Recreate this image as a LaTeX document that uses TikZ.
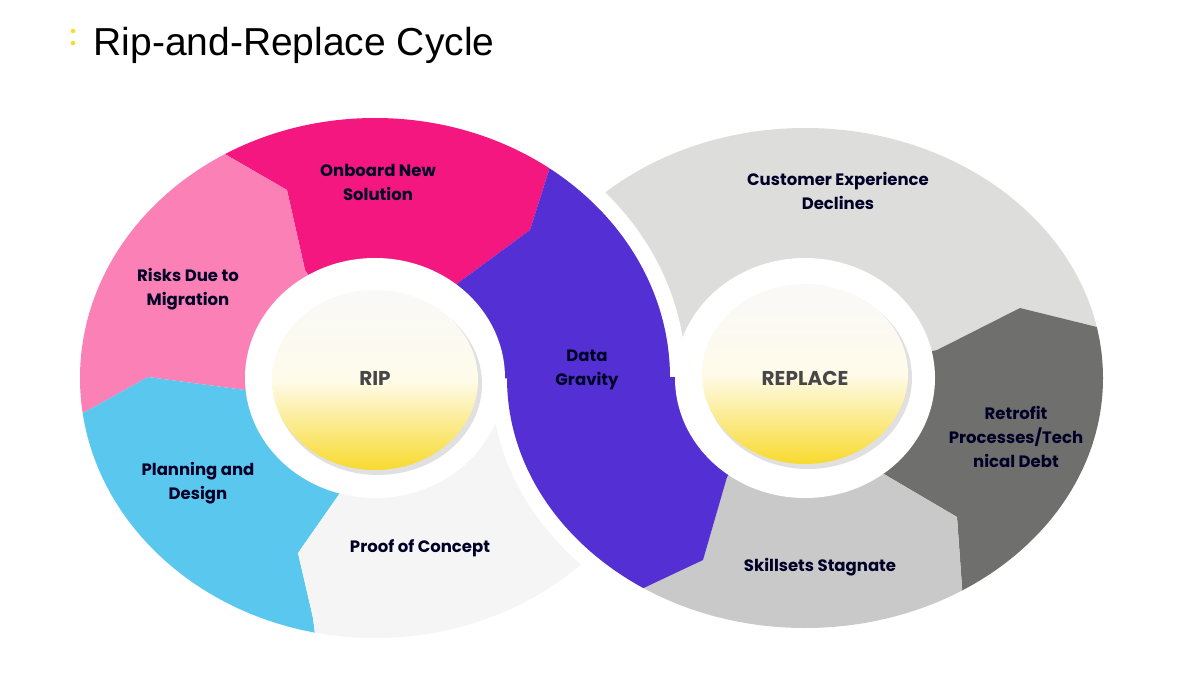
\documentclass[tikz,border=0pt]{standalone}
\usepackage{fontspec}
\setmainfont{Poppins}
\newfontfamily\titlefont{Liberation Sans}
\begin{document}
\begin{tikzpicture}[x=1pt,y=-1pt,
  lbl/.style={font=\fontsize{16.5}{24}\selectfont\bfseries,text=black!85!blue,align=center},
  ctr/.style={font=\fontsize{20}{24}\selectfont\bfseries,text=black!72},
  hubshade/.style={top color=white!95!gray,bottom color=yel,middle color=white!90!yel}]
\definecolor{onb}{HTML}{F4177F}
\definecolor{risk}{HTML}{FB80B6}
\definecolor{plan}{HTML}{5AC8EE}
\definecolor{proof}{HTML}{F5F5F5}
\definecolor{purp}{HTML}{5430D4}
\definecolor{gtop}{HTML}{DDDDDC}
\definecolor{gdark}{HTML}{6F6F6D}
\definecolor{gbot}{HTML}{C9C9C9}
\definecolor{yel}{HTML}{F8DA2E}
\fill[white] (0,0) rectangle (1200,674);
% right ring
\begin{scope}
\clip (805,378) ellipse [x radius=298,y radius=250];
\fill[gtop] (805,378)--(937,350)--(1020,308)--(1097,327)--(1200,300)--(1200,0)--(500,0)--(500,378)--cycle;
\fill[gdark] (805,378)--(937,350)--(1020,308)--(1097,327)--(1200,330)--(1200,674)--(962,674)--(962,587)--(957,517)--(877,470)--cycle;
\fill[gbot] (805,378)--(877,470)--(957,517)--(962,587)--(962,674)--(500,674)--(500,378)--cycle;
\end{scope}
% left ring
\begin{scope}
\clip (375,378) ellipse [x radius=295,y radius=260];
\fill[onb] (375,378)--(305,270)--(287,190)--(223,153)--(200,0)--(600,0)--(550,167)--(530,230)--(458,283)--cycle;
\fill[risk] (375,378)--(305,270)--(287,190)--(223,153)--(200,0)--(0,0)--(0,440)--(85,412)--(148,377)--(245,390)--cycle;
\fill[plan] (375,378)--(245,390)--(148,377)--(85,412)--(0,440)--(0,674)--(320,674)--(313,618)--(298,553)--(347,483)--cycle;
\fill[proof] (375,378)--(347,483)--(298,553)--(313,618)--(320,674)--(800,674)--(800,378)--cycle;
\end{scope}
% white gaps
\begin{scope}
\clip (560,0) rectangle (800,378);
\fill[white,even odd rule] (375,378) ellipse [x radius=311,y radius=276] (375,378) ellipse [x radius=295,y radius=260];
\end{scope}
\begin{scope}
\clip (400,378) rectangle (640,674);
\fill[white,even odd rule] (805,378) ellipse [x radius=314,y radius=266] (805,378) ellipse [x radius=298,y radius=250];
\end{scope}
% purple band
\begin{scope}
\clip (375,378) ellipse [x radius=295,y radius=260];
\fill[purp] (375,378)--(458,283)--(530,230)--(550,167)--(560,100)--(800,100)--(800,379)--cycle;
\end{scope}
\begin{scope}
\clip (805,378) ellipse [x radius=298,y radius=250];
\fill[purp] (805,377)--(440,377)--(440,700)--(560,700)--(590,613)--(633,593)--(703,560)--(727,477)--cycle;
\end{scope}
% holes
\fill[white] (375,378) ellipse [x radius=130,y radius=120];
\fill[white] (805,378) ellipse [x radius=130,y radius=120];
% hubs
\fill[black,opacity=0.12] (378,384) ellipse [x radius=104,y radius=91];
\fill[black,opacity=0.12] (808,378) ellipse [x radius=104,y radius=91];
\shade[hubshade] (375,380) ellipse [x radius=103,y radius=90];
\shade[hubshade] (805,374) ellipse [x radius=103,y radius=90];
\node[ctr] (riptxt) at (375,378) {RIP};
\node[ctr] (reptxt) at (805,378) {REPLACE};
% labels
\node[lbl] (l1) at (378,182) {Onboard New\\Solution};
\node[lbl] (l2) at (188,289) {Risks Due to\\Migration};
\node[lbl] (l3) at (198,483) {Planning and\\Design};
\node[lbl] (l4) at (420,548) {Proof of Concept};
\node[lbl] (l5) at (587,370) {Data\\Gravity};
\node[lbl] (l6) at (838,191) {Customer Experience\\Declines};
\node[lbl] (l7) at (1016,437) {Retrofit\\Processes/Tech\\nical Debt};
\node[lbl] (l8) at (820,567) {Skillsets Stagnate};
% title
\fill[yel] (73,31) circle (2.3);
\fill[yel] (73,43) circle (2.3);
\node[anchor=base west,font=\titlefont\fontsize{39}{40}\selectfont,text=black] (title) at (90,56) {Rip-and-Replace Cycle};
\end{tikzpicture}
\end{document}
